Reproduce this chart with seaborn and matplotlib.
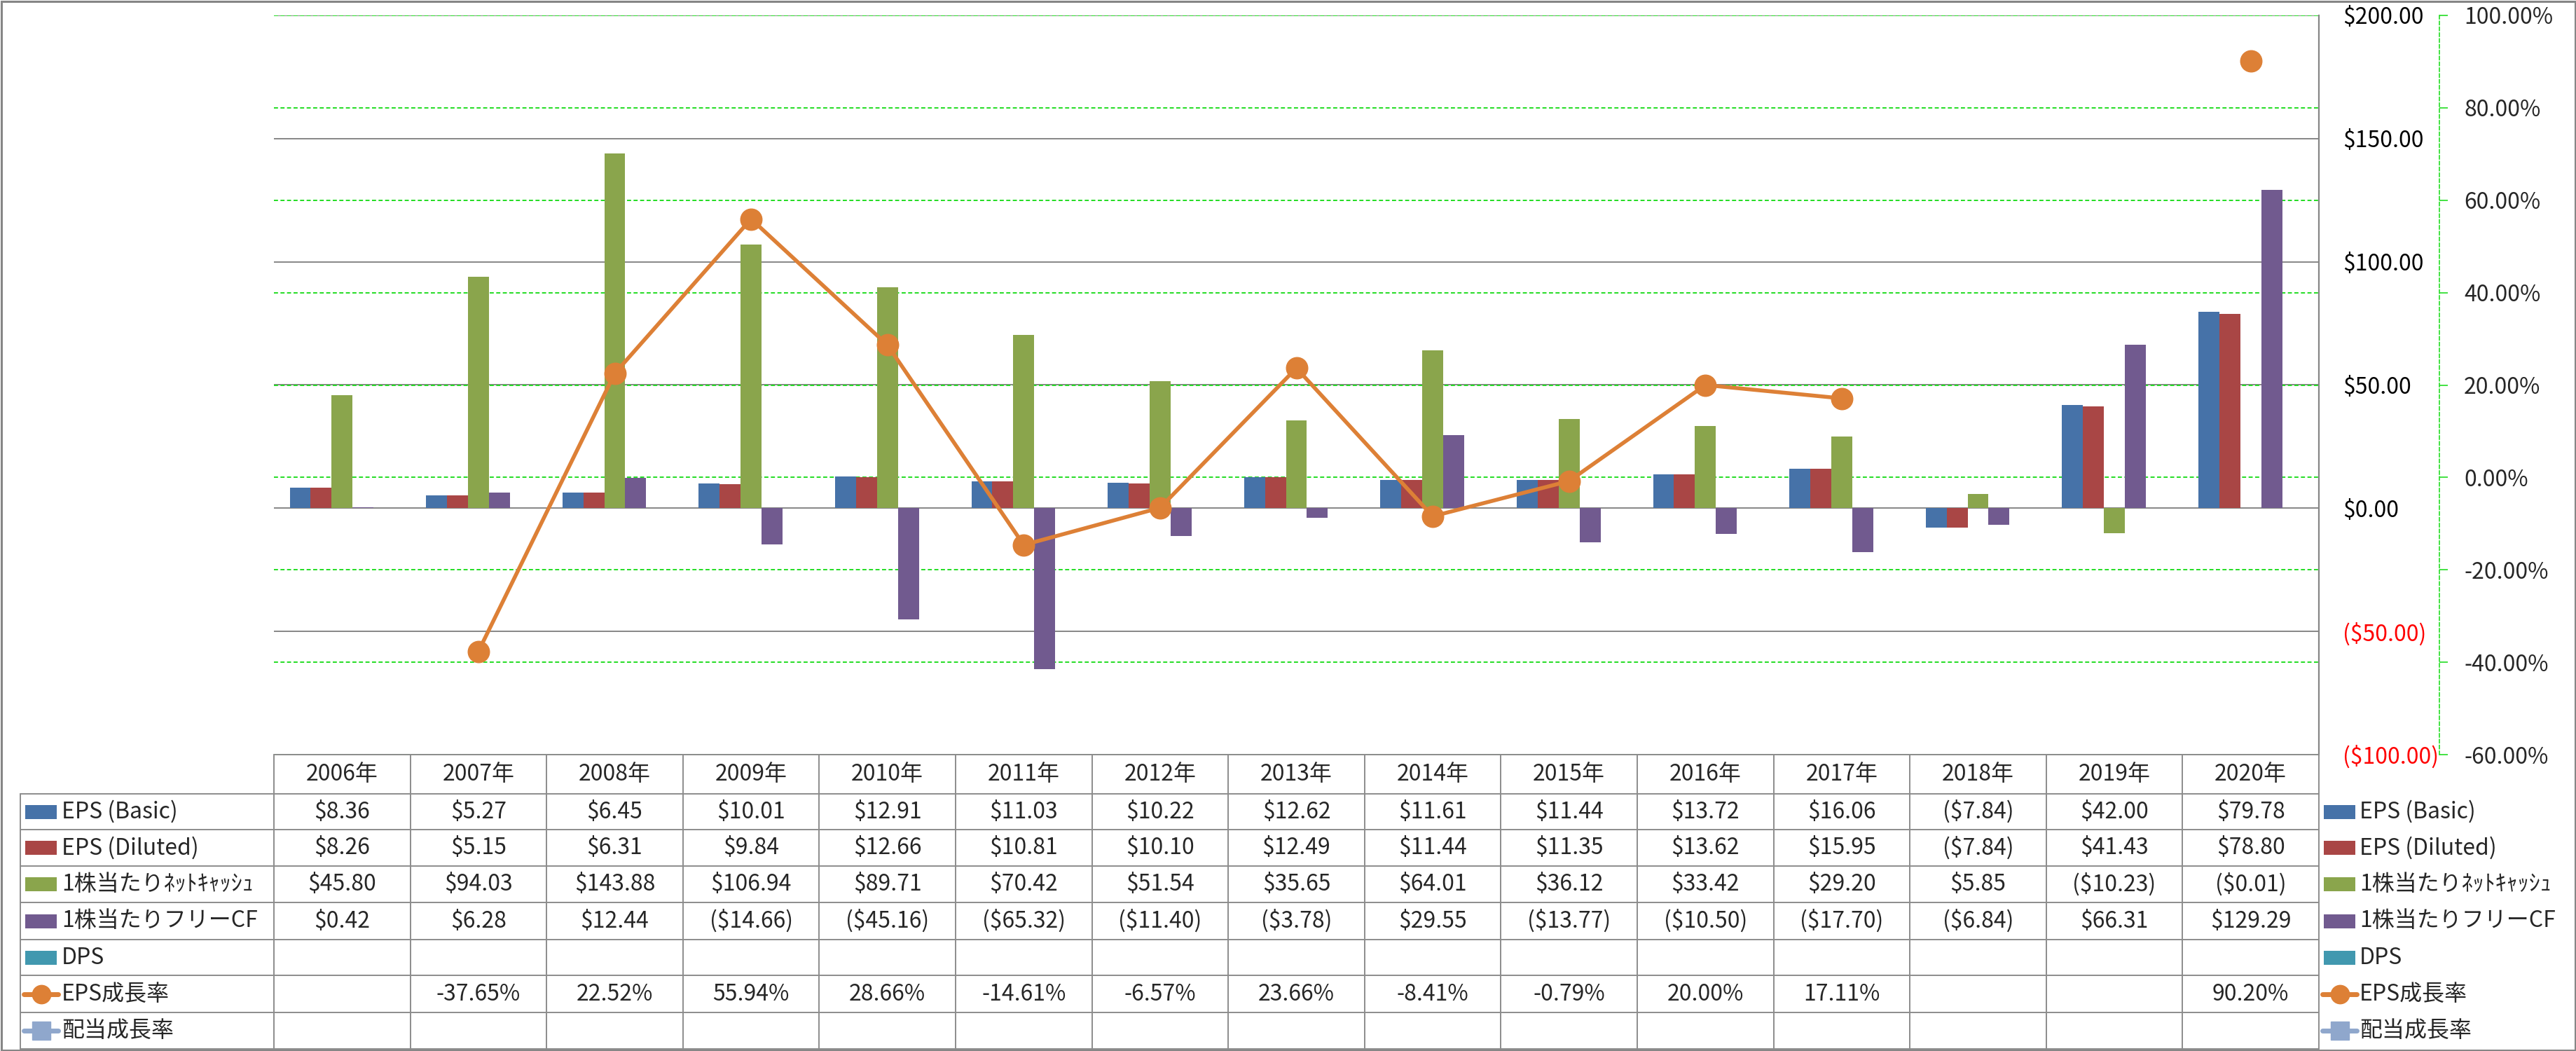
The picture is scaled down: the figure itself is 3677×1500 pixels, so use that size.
import numpy as np
import pandas as pd
import matplotlib
matplotlib.use("Agg")
import matplotlib.pyplot as plt
import seaborn as sns
from matplotlib.patches import Rectangle
from matplotlib.lines import Line2D
from matplotlib.transforms import blended_transform_factory

sns.set_style("white")
plt.rcParams["font.family"] = ["Noto Sans CJK JP", "DejaVu Sans"]

# データ
years = ["2006年", "2007年", "2008年", "2009年", "2010年", "2011年", "2012年", "2013年",
         "2014年", "2015年", "2016年", "2017年", "2018年", "2019年", "2020年"]
eps_basic = [8.36, 5.27, 6.45, 10.01, 12.91, 11.03, 10.22, 12.62, 11.61, 11.44, 13.72, 16.06, -7.84, 42.00, 79.78]
eps_diluted = [8.26, 5.15, 6.31, 9.84, 12.66, 10.81, 10.10, 12.49, 11.44, 11.35, 13.62, 15.95, -7.84, 41.43, 78.80]
net_cash = [45.80, 94.03, 143.88, 106.94, 89.71, 70.42, 51.54, 35.65, 64.01, 36.12, 33.42, 29.20, 5.85, -10.23, -0.01]
free_cf = [0.42, 6.28, 12.44, -14.66, -45.16, -65.32, -11.40, -3.78, 29.55, -13.77, -10.50, -17.70, -6.84, 66.31, 129.29]
dps = [None, None, None, None, None, None, None, None, None, None, None, None, None, None, None]
eps_growth = [None, -37.65, 22.52, 55.94, 28.66, -14.61, -6.57, 23.66, -8.41, -0.79, 20.00, 17.11, None, None, 90.20]
div_growth = [None, None, None, None, None, None, None, None, None, None, None, None, None, None, None]

bar_names = ["EPS (Basic)", "EPS (Diluted)", "1株当たりﾈｯﾄｷｬｯｼｭ", "1株当たりフリーCF", "DPS"]
line_names = ["EPS成長率", "配当成長率"]
bar_values = [eps_basic, eps_diluted, net_cash, free_cf, dps]
line_values = [eps_growth, div_growth]

bar_colors = ["#4672A8", "#A94645", "#8AA54C", "#715A8F", "#4198AF"]
line_colors = ["#DD8036", "#8FA7CC"]
line_markers = ["o", "s"]

usd_ticks = [-100, -50, 0, 50, 100, 150, 200]
pct_ticks = [-60, -40, -20, 0, 20, 40, 60, 80, 100]


def fmt_usd(v):
    if v is None or (isinstance(v, float) and np.isnan(v)):
        return ""
    return f"(${-v:,.2f})" if v < 0 else f"${v:,.2f}"


def fmt_pct(v):
    if v is None or (isinstance(v, float) and np.isnan(v)):
        return ""
    return f"{v:.2f}%"


# レイアウト (ピクセル)
W, H = 3677, 1500
PL, PR, PT, PB = 391, 3310, 22, 1077
GRAY = "#868686"
LIME = "#22DD22"
RED = "#FF0000"
FS = 23
PX = 0.72  # px -> pt

rows = []
for name, vals in zip(bar_names, bar_values):
    for y, v in zip(years, vals):
        rows.append({"year": y, "series": name, "value": np.nan if v is None else v})
df = pd.DataFrame(rows)

fig = plt.figure(figsize=(W / 100, H / 100), dpi=100)
ax = fig.add_axes([PL / W, 1 - PB / H, (PR - PL) / W, (PB - PT) / H])

sns.barplot(data=df, x="year", y="value", hue="series", order=years, hue_order=bar_names,
            palette=dict(zip(bar_names, bar_colors)), width=0.768, saturation=1,
            errorbar=None, legend=False, linewidth=0, ax=ax)

# 第2軸 (成長率)
ax2 = ax.twinx()

ax.set_xlim(-0.5, len(years) - 0.5)
ax.set_ylim(usd_ticks[0], usd_ticks[-1])
ax.set_xlabel("")
ax.set_ylabel("")
ax.set_axisbelow(True)
ax.yaxis.tick_right()
ax.set_yticks(usd_ticks)
ax.set_yticklabels([fmt_usd(v) if v != 0 else "$0.00" for v in usd_ticks])
for lab, v in zip(ax.get_yticklabels(), usd_ticks):
    lab.set_color(RED if v < 0 else "black")
ax.tick_params(axis="y", length=0, pad=34 * PX, labelsize=FS)
ax.tick_params(axis="x", length=0, labelbottom=False)
ax.yaxis.grid(True, color=GRAY, lw=1.4)
ax.xaxis.grid(False)
for s in ["top", "left", "bottom"]:
    ax.spines[s].set_visible(False)
ax.spines["right"].set_color(GRAY)
ax.spines["right"].set_linewidth(1.6)

ax2.set_ylim(pct_ticks[0], pct_ticks[-1])
ax2.set_yticks(pct_ticks)
ax2.set_yticklabels([fmt_pct(v) for v in pct_ticks])
for lab, v in zip(ax2.get_yticklabels(), pct_ticks):
    lab.set_color(RED if v < 0 else "black")
ax2.tick_params(axis="y", direction="out", length=12 * PX, width=1.2, color=LIME,
                pad=23 * PX, labelsize=FS)
for s in ["top", "left", "bottom"]:
    ax2.spines[s].set_visible(False)
ax2.spines["right"].set_position(("outward", 172 * PX))
ax2.spines["right"].set_color(LIME)
ax2.spines["right"].set_linestyle((0, (3, 2)))
ax2.spines["right"].set_linewidth(1.2)

# 緑の破線グリッド (棒の後ろ)
trans = blended_transform_factory(ax.transAxes, ax2.transData)
for v in pct_ticks:
    ax.plot([0, 1], [v, v], transform=trans, color=LIME, lw=1.4, ls=(0, (3, 1.8)), zorder=0.8)

xpos = np.arange(len(years))
for vals, c, m in zip(line_values, line_colors, line_markers):
    y = np.array([np.nan if v is None else v for v in vals], dtype=float)
    ax2.plot(xpos, y, color=c, lw=4, marker=m, ms=22, mfc=c, mec=c, zorder=3)

# データテーブル
tab = fig.add_axes([0, 0, 1, 1], zorder=5)
tab.set_xlim(0, W)
tab.set_ylim(H, 0)
tab.axis("off")
tab.patch.set_alpha(0)

row_lines = [1077, 1133, 1184, 1236, 1288, 1341, 1392, 1445, 1497]
col_w = (PR - PL) / len(years)
col_x = [PL + i * col_w for i in range(len(years) + 1)]
TL = 29
lc = "#8C8C8C"
tab.plot([PL, PR], [row_lines[0]] * 2, color=lc, lw=1.4)
for yl in row_lines[1:]:
    tab.plot([TL, PR], [yl, yl], color=lc, lw=1.4)
tab.plot([TL, TL], [row_lines[1], row_lines[-1]], color=lc, lw=1.4)
for xc in col_x:
    tab.plot([xc, xc], [row_lines[0], row_lines[-1]], color=lc, lw=1.4)

hy = (row_lines[0] + row_lines[1]) / 2
for i, yr in enumerate(years):
    tab.text(col_x[i] + col_w / 2, hy, yr, ha="center", va="center", fontsize=FS)

all_names = bar_names + line_names
all_text = [[fmt_usd(v) for v in vals] for vals in bar_values] + \
           [[fmt_pct(v) for v in vals] for vals in line_values]


def draw_key(k, x0, yc):
    if k < len(bar_names):
        tab.add_patch(Rectangle((x0, yc - 10), 45, 20, color=bar_colors[k], lw=0))
    else:
        j = k - len(bar_names)
        tab.add_line(Line2D([x0 - 2, x0 + 47], [yc, yc], color=line_colors[j], lw=5))
        tab.plot([x0 + 22.5], [yc], marker=line_markers[j], ms=19, color=line_colors[j])


for k, name in enumerate(all_names):
    yc = (row_lines[k + 1] + row_lines[k + 2]) / 2
    draw_key(k, 36, yc)
    tab.text(88, yc, name, ha="left", va="center", fontsize=FS)
    for i, t in enumerate(all_text[k]):
        tab.text(col_x[i] + col_w / 2, yc, t, ha="center", va="center", fontsize=FS)
    # 右側の凡例
    draw_key(k, 3317, yc)
    tab.text(3368, yc, name, ha="left", va="center", fontsize=FS)

# 外枠
tab.add_patch(Rectangle((1.5, 1.5), W - 3, H - 3, fill=False, edgecolor=GRAY, lw=2.2))

fig.savefig("out.png", dpi=100)
